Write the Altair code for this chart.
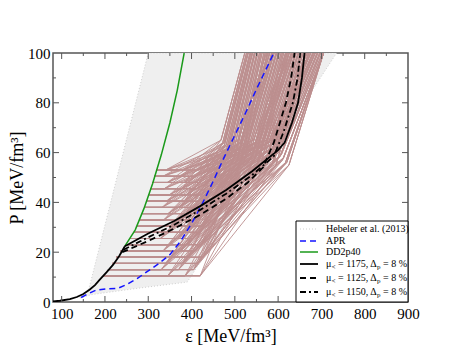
import altair as alt
import pandas as pd

# ---------------- data ----------------
HAD_E = [80, 96, 119, 135, 150, 165, 177, 188, 204, 219, 233, 246]
HAD_P = [0.2, 0.5, 1.2, 2.0, 3.2, 5.0, 6.8, 9.0, 12.0, 15.0, 18.5, 22.4]

SOLID_E = [246, 300, 360, 420, 480, 540, 600, 615, 632, 646, 655, 661]
SOLID_P = [22.4, 27.5, 32.5, 38.5, 45, 52.5, 61, 64, 72, 80, 90, 100]
DASHDOT_E = [243, 300, 360, 420, 480, 540, 590, 612, 634, 645, 651]
DASHDOT_P = [21, 26, 31, 37, 43.5, 51, 58.5, 68, 80, 90, 100]
DASHED_E = [240, 300, 360, 420, 480, 530, 565, 590, 618, 630, 638]
DASHED_P = [20, 24.5, 29.5, 35, 41.5, 48, 54, 64, 80, 90, 100]

DD2_E = [246, 270, 290, 310, 330, 350, 367, 383]
DD2_P = [22.4, 29, 37.5, 47.5, 59, 72, 85, 100]

APR_E = [145, 160, 180, 205, 230, 250, 275, 300, 325, 350, 375, 400, 425, 450,
         475, 500, 525, 550, 575, 590]
APR_P = [1.8, 3.2, 4.8, 5.3, 5.5, 7, 9.5, 12.5, 15.5, 19, 24.5, 31.5, 39.5, 48.5,
         58, 67, 76, 85.5, 94.5, 100]

HEB_P = [1.5, 3, 5.5, 8, 100]
HEB_LEFT = [140, 152, 163, 167, 300]
HEB_RIGHT = [140, 170, 275, 390, 735]

# hybrid EOS family: transition pressure, onset energy density, shifts of the
# plateau end / knee / top for that pressure, knee pressure
PT = [10.5, 13, 15.5, 18, 20.5, 23, 25.5, 28, 30.5, 33, 35.5, 38, 40.5, 43, 45.5, 48, 50.5, 53]
PT_START = [196, 207, 217, 226, 236, 252, 259, 267, 274, 280, 286, 291, 296, 301, 306, 310, 314, 318]
EB_SHIFT = [5, -10, 0, 12, -6, 8, -12, 3, 10, -4, 6, -8, 2, 9, -3, 4, -6, 0]
EK_SHIFT = [30, 22, 25, 15, 18, 8, 12, 2, 6, -4, 0, -8, -5, -14, -10, -18, -15, -22]
PT_KNEE = [55, 56, 56, 57, 58, 58, 59, 60, 60, 61, 61, 62, 62, 63, 63, 64, 64, 65]
EB = [340, 380, 415]                 # end of the plateau
EK = [490, 530, 565, 595]            # knee energy density
ETOP = [545, 595, 640, 690]          # energy density where P = 100

X_MAJOR = [100, 200, 300, 400, 500, 600, 700, 800]
X_MINOR = [150, 250, 350, 450, 550, 650, 750, 850]
Y_MAJOR = [20, 40, 60, 80]
Y_MINOR = [10, 30, 50, 70, 90]
X_LABELS = [100, 200, 300, 400, 500, 600, 700, 800, 900]
Y_LABELS = [0, 20, 40, 60, 80, 100]

W, H = 355, 249
FONT = "Liberation Serif"
FRAME = "#555555"

# ---------------- tables ----------------
def curve(es, ps):
    return pd.DataFrame({"e": es, "p": ps, "i": list(range(len(es)))})

rows = []
lid = 0
for pt, es, sb, sk, pk in zip(PT, PT_START, EB_SHIFT, EK_SHIFT, PT_KNEE):
    for eb in EB:
        for ek, et in zip(EK, ETOP):
            pts = [(es, pt), (max(eb + sb, es + 10), pt), (ek + sk, pk), (min(et + sk, 705), 100)]
            for k, (e, p) in enumerate(pts):
                rows.append({"id": lid, "k": k, "e": e, "p": p})
            lid += 1
hyb = pd.DataFrame(rows)

xs = alt.Scale(domain=[80, 900], nice=False, zero=False)
ys = alt.Scale(domain=[0, 100], nice=False, zero=False)
XAX = alt.Axis(values=X_LABELS, title="ε [MeV/fm³]", labelPadding=4, titlePadding=6,
               labelFlush=False)
YAX = alt.Axis(values=Y_LABELS, title="P [MeV/fm³]", labelPadding=3, titlePadding=1,
               labelFlush=False)


def X(f):
    return alt.X(f, scale=xs, axis=XAX)


def Y(f):
    return alt.Y(f, scale=ys, axis=YAX)


band = alt.Chart(pd.DataFrame({"p": HEB_P, "l": HEB_LEFT, "r": HEB_RIGHT})).mark_area(
    orient="horizontal", fill="#efefef", stroke="#cfcfcf", strokeWidth=1,
    strokeDash=[1, 2], clip=True
).encode(y=Y("p:Q"), x=X("l:Q"), x2="r:Q")


def line(df, color, width, dash=None, detail=None, order="i"):
    kw = dict(color=color, strokeWidth=width, clip=True)
    if dash:
        kw["strokeDash"] = dash
    enc = dict(x=X("e:Q"), y=Y("p:Q"), order=alt.Order(order + ":Q"))
    if detail:
        enc["detail"] = detail + ":N"
    return alt.Chart(df).mark_line(**kw).encode(**enc)


hyb_l = line(hyb, "#bc8f8f", 0.9, detail="id", order="k")
dd2_l = line(curve(DD2_E, DD2_P), "#1a9a1a", 1.5)
apr_l = line(curve(APR_E, APR_P), "#1414ff", 1.5, dash=[6, 4])
had_l = line(curve(HAD_E, HAD_P), "black", 1.8)
sol_l = line(curve(SOLID_E, SOLID_P), "black", 1.8)
dsh_l = line(curve(DASHED_E, DASHED_P), "black", 1.8, dash=[6, 4])
dd_l = line(curve(DASHDOT_E, DASHDOT_P), "black", 1.8, dash=[6, 3, 2, 3])


def ticks(vals, axis, length):
    df = pd.DataFrame({"v": vals})
    base = alt.Chart(df).mark_rule(color=FRAME, strokeWidth=1)
    if axis == "x":
        bot = base.encode(x=X("v:Q"), y=alt.value(H), y2=alt.value(H - length))
        top = base.encode(x=X("v:Q"), y=alt.value(0), y2=alt.value(length))
        return [bot, top]
    lef = base.encode(y=Y("v:Q"), x=alt.value(0), x2=alt.value(length))
    rig = base.encode(y=Y("v:Q"), x=alt.value(W), x2=alt.value(W - length))
    return [lef, rig]


tick_layers = (ticks(X_MAJOR, "x", 6) + ticks(X_MINOR, "x", 3)
               + ticks(Y_MAJOR, "y", 6) + ticks(Y_MINOR, "y", 3))

# ---------------- legend ----------------
one = pd.DataFrame({"a": [0]})
LX0, LX1, LY0, LY1 = 243, W, 168, H
ROWS = [176, 188, 199, 211, 225, 239]
SX0, SX1, TX = 247, 265, 273

leg = [alt.Chart(one).mark_rect(fill="white", stroke="black", strokeWidth=1).encode(
    x=alt.value(LX0), x2=alt.value(LX1), y=alt.value(LY0), y2=alt.value(LY1))]
samples = [("#cfcfcf", [1, 2], 1.2), ("#1414ff", [6, 4], 1.5), ("#1a9a1a", None, 1.5),
           ("black", None, 1.8), ("black", [6, 4], 1.8), ("black", [6, 3, 2, 3], 1.8)]
for yv, (c, d, sw) in zip(ROWS, samples):
    kw = dict(color=c, strokeWidth=sw)
    if d:
        kw["strokeDash"] = d
    leg.append(alt.Chart(one).mark_rule(**kw).encode(
        x=alt.value(SX0), x2=alt.value(SX1), y=alt.value(yv)))


def txt(s, x, y, size=10):
    return alt.Chart(one).mark_text(text=s, font=FONT, fontSize=size, align="left",
                                    baseline="middle", color="black").encode(
        x=alt.value(x), y=alt.value(y))


leg += [txt("Hebeler et al. (2013)", TX, ROWS[0]), txt("APR", TX, ROWS[1]),
        txt("DD2p40", TX, ROWS[2])]
for yv, mu in zip(ROWS[3:], ["1175", "1125", "1150"]):
    leg += [txt("μ", TX, yv), txt("<", TX + 5.5, yv + 3, 7),
            txt("= " + mu + ", Δ", TX + 12, yv), txt("p", TX + 51, yv + 3, 7),
            txt("= 8 %", TX + 57, yv)]

chart = alt.layer(band, hyb_l, dd2_l, apr_l, had_l, sol_l, dsh_l, dd_l,
                  *tick_layers, *leg).properties(
    width=W, height=H, autosize=alt.AutoSizeParams(type="none"),
    padding={"left": 45, "top": 45, "right": 30, "bottom": 50},
).configure_axis(
    labelFont=FONT, titleFont=FONT, labelFontSize=15, titleFontSize=18,
    titleFontWeight="normal", ticks=False, domain=False, grid=False,
    labelColor="black", titleColor="black",
).configure_view(stroke=FRAME, strokeWidth=1.5)

chart.save("out.html", embed_options={"renderer": "svg", "actions": False})
